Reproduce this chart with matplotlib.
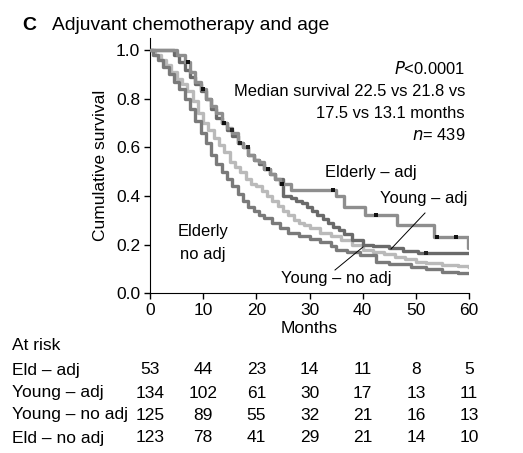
import numpy as np
import matplotlib
matplotlib.use("Agg")
import matplotlib.pyplot as plt
from matplotlib.transforms import blended_transform_factory

plt.rcParams['font.family'] = ['Liberation Sans', 'DejaVu Sans']

# ---- data ----
eld_adj_t = [0, 5, 6.5, 7.5, 8.5, 9.5, 10.5, 11.5, 12.5, 13.5, 14.5, 15.5, 16.5, 17.5,
             18.5, 19.5, 20.5, 21.5, 22.5, 23.5, 24.5, 26.5, 35, 36.5, 40.5, 46.5, 53.5, 57.5, 59.8, 60]
eld_adj_s = [1.0, 0.98, 0.95, 0.91, 0.87, 0.84, 0.80, 0.77, 0.74, 0.70, 0.68, 0.66, 0.62, 0.60,
             0.57, 0.55, 0.54, 0.51, 0.49, 0.47, 0.45, 0.425, 0.40, 0.356, 0.32, 0.28, 0.233, 0.233, 0.185, 0.185]

young_adj_t = [0, 4.5, 5.5, 6.5, 7.5, 8.5, 9.5, 10.5, 11.5, 12.5, 13.5, 14.5, 15.5, 16.5, 17.5,
               18.5, 19.5, 20.5, 21.5, 22.5, 23.5, 25, 26.5, 27.5, 28.5, 29.5, 30.5, 31.5, 32.5,
               33.5, 34.5, 35.5, 36.5, 38, 40, 42, 45, 47.5, 50.5, 60]
young_adj_s = [1.0, 0.98, 0.95, 0.92, 0.89, 0.86, 0.83, 0.80, 0.76, 0.72, 0.70, 0.67, 0.645, 0.62, 0.60,
               0.57, 0.55, 0.53, 0.51, 0.49, 0.47, 0.40, 0.39, 0.38, 0.37, 0.355, 0.34, 0.32, 0.305,
               0.29, 0.274, 0.26, 0.245, 0.22, 0.20, 0.195, 0.186, 0.175, 0.165, 0.165]

young_noadj_t = [0, 1, 2, 3, 4, 5, 6, 7, 8, 9, 10, 11, 12, 13, 14, 15, 16, 17, 18, 19, 20, 21, 22,
                 23, 24, 25, 26, 27, 28, 29, 30, 32, 34, 36, 38, 40, 42, 44, 46, 48, 50, 52, 55, 58, 60]
young_noadj_s = [1.0, 0.98, 0.96, 0.94, 0.91, 0.88, 0.86, 0.83, 0.79, 0.74, 0.70, 0.67, 0.64, 0.61,
                 0.58, 0.54, 0.52, 0.50, 0.47, 0.45, 0.44, 0.42, 0.40, 0.38, 0.36, 0.34, 0.32, 0.30,
                 0.29, 0.28, 0.27, 0.25, 0.235, 0.22, 0.20, 0.178, 0.17, 0.16, 0.15, 0.14, 0.13,
                 0.124, 0.118, 0.112, 0.11]

eld_noadj_t = [0, 0.5, 1.5, 2.5, 3.5, 4.5, 5.5, 6.5, 7.5, 8.5, 9.5, 10.5, 11.5, 12.5, 13.5, 14.5,
               15.5, 16.5, 17.5, 18.5, 19.5, 20.5, 21.5, 23, 24.5, 26, 28, 30, 32, 34, 35, 37,
               39.5, 42.5, 45, 49, 52, 55, 58, 60]
eld_noadj_s = [1.0, 0.98, 0.96, 0.93, 0.90, 0.87, 0.84, 0.80, 0.76, 0.71, 0.66, 0.62, 0.57, 0.53,
               0.50, 0.47, 0.44, 0.41, 0.38, 0.355, 0.34, 0.32, 0.31, 0.29, 0.27, 0.25, 0.235, 0.225,
               0.21, 0.195, 0.178, 0.168, 0.158, 0.13, 0.12, 0.11, 0.10, 0.089, 0.085, 0.083]

eld_adj_cens = [7.1, 10, 14, 22.2, 24.8, 34.4, 42.6, 54, 57.6]
young_adj_cens = [15.4, 16.9, 18.4, 52]

risk_labels = ['Eld \u2013 adj', 'Young \u2013 adj', 'Young \u2013 no adj', 'Eld \u2013 no adj']
risk_times = [0, 10, 20, 30, 40, 50, 60]
risk_eld_adj = [53, 44, 23, 14, 11, 8, 5]
risk_young_adj = [134, 102, 61, 30, 17, 13, 11]
risk_young_noadj = [125, 89, 55, 32, 21, 16, 13]
risk_eld_noadj = [123, 78, 41, 29, 21, 14, 10]

# ---- figure ----
W, H = 523, 453
fig = plt.figure(figsize=(W / 100, H / 100), dpi=100)
ax = fig.add_axes([150 / W, 1 - 293.3 / H, (469 - 150) / W, (293.3 - 38) / H])

c_ea, c_ya, c_yn, c_en = '#8e8e8e', '#6a6a6a', '#bababa', '#7a7a7a'
lw = 2.4
ax.plot(young_noadj_t, young_noadj_s, drawstyle='steps-post', color=c_yn, lw=lw, zorder=2)
ax.plot(eld_noadj_t, eld_noadj_s, drawstyle='steps-post', color=c_en, lw=lw, zorder=2)
ax.plot(young_adj_t, young_adj_s, drawstyle='steps-post', color=c_ya, lw=lw, zorder=3)
ax.plot(eld_adj_t, eld_adj_s, drawstyle='steps-post', color=c_ea, lw=lw, zorder=4)


def step_at(ts, ss, x):
    i = np.searchsorted(ts, x, side='right') - 1
    return np.asarray(ss)[i]


ax.plot(eld_adj_cens, step_at(eld_adj_t, eld_adj_s, eld_adj_cens), 's', ms=2.2, mew=0,
        color='#111111', zorder=5)
ax.plot(young_adj_cens, step_at(young_adj_t, young_adj_s, young_adj_cens), 's', ms=2.2, mew=0,
        color='#222222', zorder=5)

ax.set_xlim(0, 60)
ax.set_ylim(0, 1.05)
ax.set_xticks(risk_times)
ax.set_yticks([0, 0.2, 0.4, 0.6, 0.8, 1.0])
ax.set_yticklabels(['0.0', '0.2', '0.4', '0.6', '0.8', '1.0'])
for s in ['top', 'right']:
    ax.spines[s].set_visible(False)
ax.tick_params(labelsize=12.5, direction='out', length=4, width=1, colors='black', pad=3)
ax.set_xlabel('Months', fontsize=12.5, labelpad=2)
ax.set_ylabel('Cumulative survival', fontsize=12.5, labelpad=6)

# title
fig.text(22 / W, 1 - 26 / H, 'C', fontsize=14, fontweight='bold', va='center', ha='left')
fig.text(52 / W, 1 - 26 / H, 'Adjuvant chemotherapy and age', fontsize=13.9, va='center', ha='left')

# annotations in upper right
tx = 465 / W
fs = 11.9
fig.text(tx, 1 - 68 / H, r'$\it{P}$<0.0001', fontsize=fs, ha='right', va='center')
fig.text(tx, 1 - 91 / H, 'Median survival 22.5 vs 21.8 vs', fontsize=fs, ha='right', va='center')
fig.text(tx, 1 - 113 / H, '17.5 vs 13.1 months', fontsize=fs, ha='right', va='center')
fig.text(tx, 1 - 135 / H, r'$\it{n}$= 439', fontsize=fs, ha='right', va='center')

# curve labels
fig.text(371 / W, 1 - 172 / H, 'Elderly \u2013 adj', fontsize=fs, ha='center', va='center')
fig.text(424 / W, 1 - 199 / H, 'Young \u2013 adj', fontsize=fs, ha='center', va='center')
fig.text(203 / W, 1 - 232 / H, 'Elderly', fontsize=fs, ha='center', va='center')
fig.text(203 / W, 1 - 254 / H, 'no adj', fontsize=fs, ha='center', va='center')
fig.text(336 / W, 1 - 279 / H, 'Young \u2013 no adj', fontsize=fs, ha='center', va='center')

# pointer lines
fig.add_artist(plt.Line2D([425 / W, 391 / W], [1 - 213 / H, 1 - 249 / H], color='black', lw=0.7))
fig.add_artist(plt.Line2D([335 / W, 363 / W], [1 - 270 / H, 1 - 247 / H], color='black', lw=0.7))

# at-risk table
fst = 12.5
trans = blended_transform_factory(ax.transData, fig.transFigure)
fig.text(12 / W, 1 - 345 / H, 'At risk', fontsize=fst, ha='left', va='center')
rows = [risk_eld_adj, risk_young_adj, risk_young_noadj, risk_eld_noadj]
ys = [370, 393, 415, 438]
for lab, row, yp in zip(risk_labels, rows, ys):
    fig.text(12 / W, 1 - yp / H, lab, fontsize=fst, ha='left', va='center')
    for t, v in zip(risk_times, row):
        ax.text(t, 1 - yp / H, str(v), fontsize=fst, ha='center', va='center',
                transform=trans, clip_on=False)

fig.savefig('out.png', dpi=100)
